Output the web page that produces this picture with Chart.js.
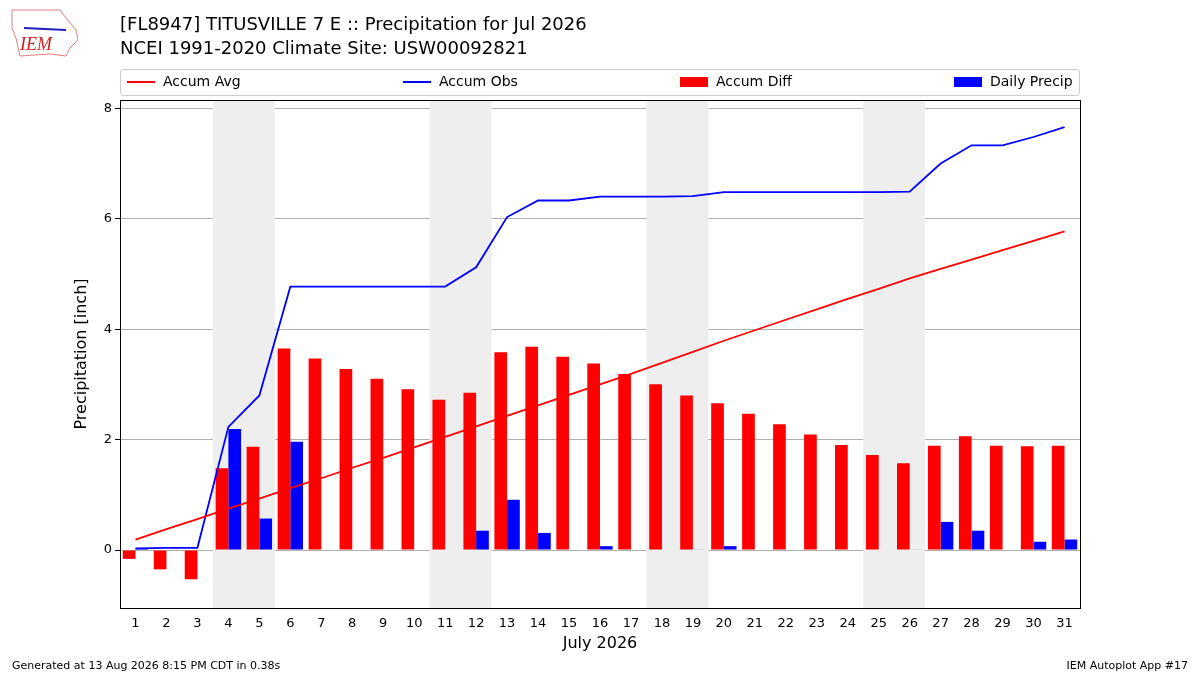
<!DOCTYPE html>
<html>
<head>
<meta charset="utf-8">
<script src="https://cdn.jsdelivr.net/npm/chart.js@4"></script>
<style>
  body { margin: 0; background: #fff; font-family: "DejaVu Sans", sans-serif; }
  #wrap { position: relative; width: 1200px; height: 675px; }
  canvas { position: absolute; left: 0; top: 0; }
  .t { position: absolute; left: 120px; font-size: 18px; color: #000; }
  #legend { position: absolute; left: 120px; top: 69px; width: 958px; height: 25px; border: 1px solid #ccc; border-radius: 3px; font-size: 14px; }
  .li { position: absolute; top: 3px; }
  .sw { display: inline-block; vertical-align: middle; margin-right: 8px; }
  .foot { position: absolute; top: 659px; font-size: 11px; }
  #logo { position: absolute; left: 10px; top: 8px; width: 68px; height: 48px; }
</style>
</head>
<body>
<div id="wrap">
  <canvas id="myChart" width="1200" height="675"></canvas>
  <div id="logo"><svg width="68" height="50"><path d="M2 2 L50 2 L56 10 L66 22 L68 32 L60 40 L56 48 L40 46 L10 48 L6 30 L2 20 Z" fill="#fff" stroke="#e08080" stroke-width="1"/><line x1="14" y1="20" x2="56" y2="22" stroke="#2020c0" stroke-width="2"/><text x="10" y="42" font-family="Liberation Serif" font-style="italic" font-size="18" fill="#d02020">IEM</text></svg></div>
  <div class="t" style="top:13px">[FL8947] TITUSVILLE 7 E :: Precipitation for Jul 2026</div>
  <div class="t" style="top:37px">NCEI 1991-2020 Climate Site: USW00092821</div>
  <div id="legend">
    <div class="li" style="left:6px"><span class="sw" style="width:28px;height:2px;background:red"></span>Accum Avg</div>
    <div class="li" style="left:282px"><span class="sw" style="width:28px;height:2px;background:blue"></span>Accum Obs</div>
    <div class="li" style="left:559px"><span class="sw" style="width:28px;height:10px;background:red"></span>Accum Diff</div>
    <div class="li" style="left:833px"><span class="sw" style="width:28px;height:10px;background:blue"></span>Daily Precip</div>
  </div>
  <div class="foot" style="left:12px">Generated at 13 Aug 2026 8:15 PM CDT in 0.38s</div>
  <div class="foot" style="right:12px">IEM Autoplot App #17</div>
</div>
<script>
const days = Array.from({ length: 31 }, (_, i) => String(i + 1));
const accumAvg = [0.19, 0.38, 0.56, 0.75, 0.93, 1.12, 1.30, 1.49, 1.67, 1.86, 2.05, 2.24, 2.43, 2.62, 2.81, 3.00,
  3.19, 3.39, 3.59, 3.79, 3.98, 4.17, 4.36, 4.55, 4.73, 4.92, 5.09, 5.26, 5.43, 5.60, 5.77];
const accumObs = [0.03, 0.04, 0.04, 2.23, 2.80, 4.77, 4.77, 4.77, 4.77, 4.77, 4.77, 5.12, 6.03, 6.33, 6.33, 6.40,
  6.40, 6.40, 6.41, 6.48, 6.48, 6.48, 6.48, 6.48, 6.48, 6.49, 7.00, 7.33, 7.33, 7.48, 7.66];
const accumDiff = [-0.16, -0.35, -0.53, 1.48, 1.87, 3.65, 3.47, 3.28, 3.10, 2.91, 2.72, 2.85, 3.58, 3.68, 3.50, 3.38,
  3.19, 3.00, 2.80, 2.66, 2.47, 2.28, 2.09, 1.90, 1.72, 1.57, 1.89, 2.06, 1.89, 1.88, 1.89];
const dailyPrecip = [0.03, 0.01, 0.00, 2.19, 0.57, 1.96, 0, 0, 0, 0, 0, 0.35, 0.91, 0.31, 0, 0.07,
  0, 0, 0.01, 0.07, 0, 0, 0, 0, 0, 0.01, 0.51, 0.35, 0, 0.15, 0.19];
// weekends shaded as pairs (first day of each pair)
const weekendStarts = ['4', '11', '18', '25'];
const yTicks = [0, 2, 4, 6, 8];

const shading = {
  id: 'shading',
  beforeDatasetsDraw(chart) {
    const { ctx, chartArea, scales } = chart;
    const half = (scales.x.getPixelForValue(1) - scales.x.getPixelForValue(0)) / 2;
    ctx.save();
    ctx.fillStyle = '#eeeeee';
    weekendStarts.forEach(d => {
      const px = scales.x.getPixelForValue(days.indexOf(d));
      ctx.fillRect(px - half, chartArea.top, half * 4, chartArea.bottom - chartArea.top);
    });
    ctx.restore();
  },
  afterDraw(chart) {
    const { ctx, chartArea } = chart;
    ctx.save();
    ctx.strokeStyle = '#000';
    ctx.lineWidth = 1;
    ctx.strokeRect(chartArea.left + 0.5, chartArea.top + 0.5, chartArea.width, chartArea.height);
    ctx.restore();
  }
};

new Chart(document.getElementById('myChart'), {
  data: {
    labels: days,
    datasets: [
      { type: 'line', data: accumAvg, borderColor: 'red', borderWidth: 1.8, pointRadius: 0, order: 0 },
      { type: 'line', data: accumObs, borderColor: 'blue', borderWidth: 1.8, pointRadius: 0, order: 0 },
      { type: 'bar', data: accumDiff, backgroundColor: 'red', order: 1, categoryPercentage: 0.82, barPercentage: 1 },
      { type: 'bar', data: dailyPrecip, backgroundColor: 'blue', order: 1, categoryPercentage: 0.82, barPercentage: 1 }
    ]
  },
  options: {
    responsive: false,
    animation: false,
    layout: { padding: { top: 100, right: 120, left: 72, bottom: 22 } },
    plugins: { legend: { display: false }, tooltip: { enabled: false } },
    scales: {
      x: {
        offset: true,
        grid: { display: false, tickLength: 5 },
        border: { color: '#000' },
        ticks: { color: '#000', font: { size: 13, family: 'DejaVu Sans' }, maxRotation: 0, autoSkip: false },
        title: { display: true, text: 'July 2026', color: '#000', font: { size: 16, family: 'DejaVu Sans' }, padding: 0 },
        afterFit(s) { s.height = 45; }
      },
      y: {
        min: -1.05, max: 8.15,
        afterBuildTicks(s) { s.ticks = yTicks.map(v => ({ value: v })); },
        grid: { color: '#b0b0b0', tickLength: 5, tickColor: '#000' },
        border: { color: '#000' },
        ticks: { color: '#000', font: { size: 13, family: 'DejaVu Sans' } },
        title: { display: true, text: 'Precipitation [inch]', color: '#000', font: { size: 16, family: 'DejaVu Sans' }, padding: 0 },
        afterFit(s) { s.width = 48; }
      }
    }
  },
  plugins: [shading]
});
</script>
</body>
</html>
